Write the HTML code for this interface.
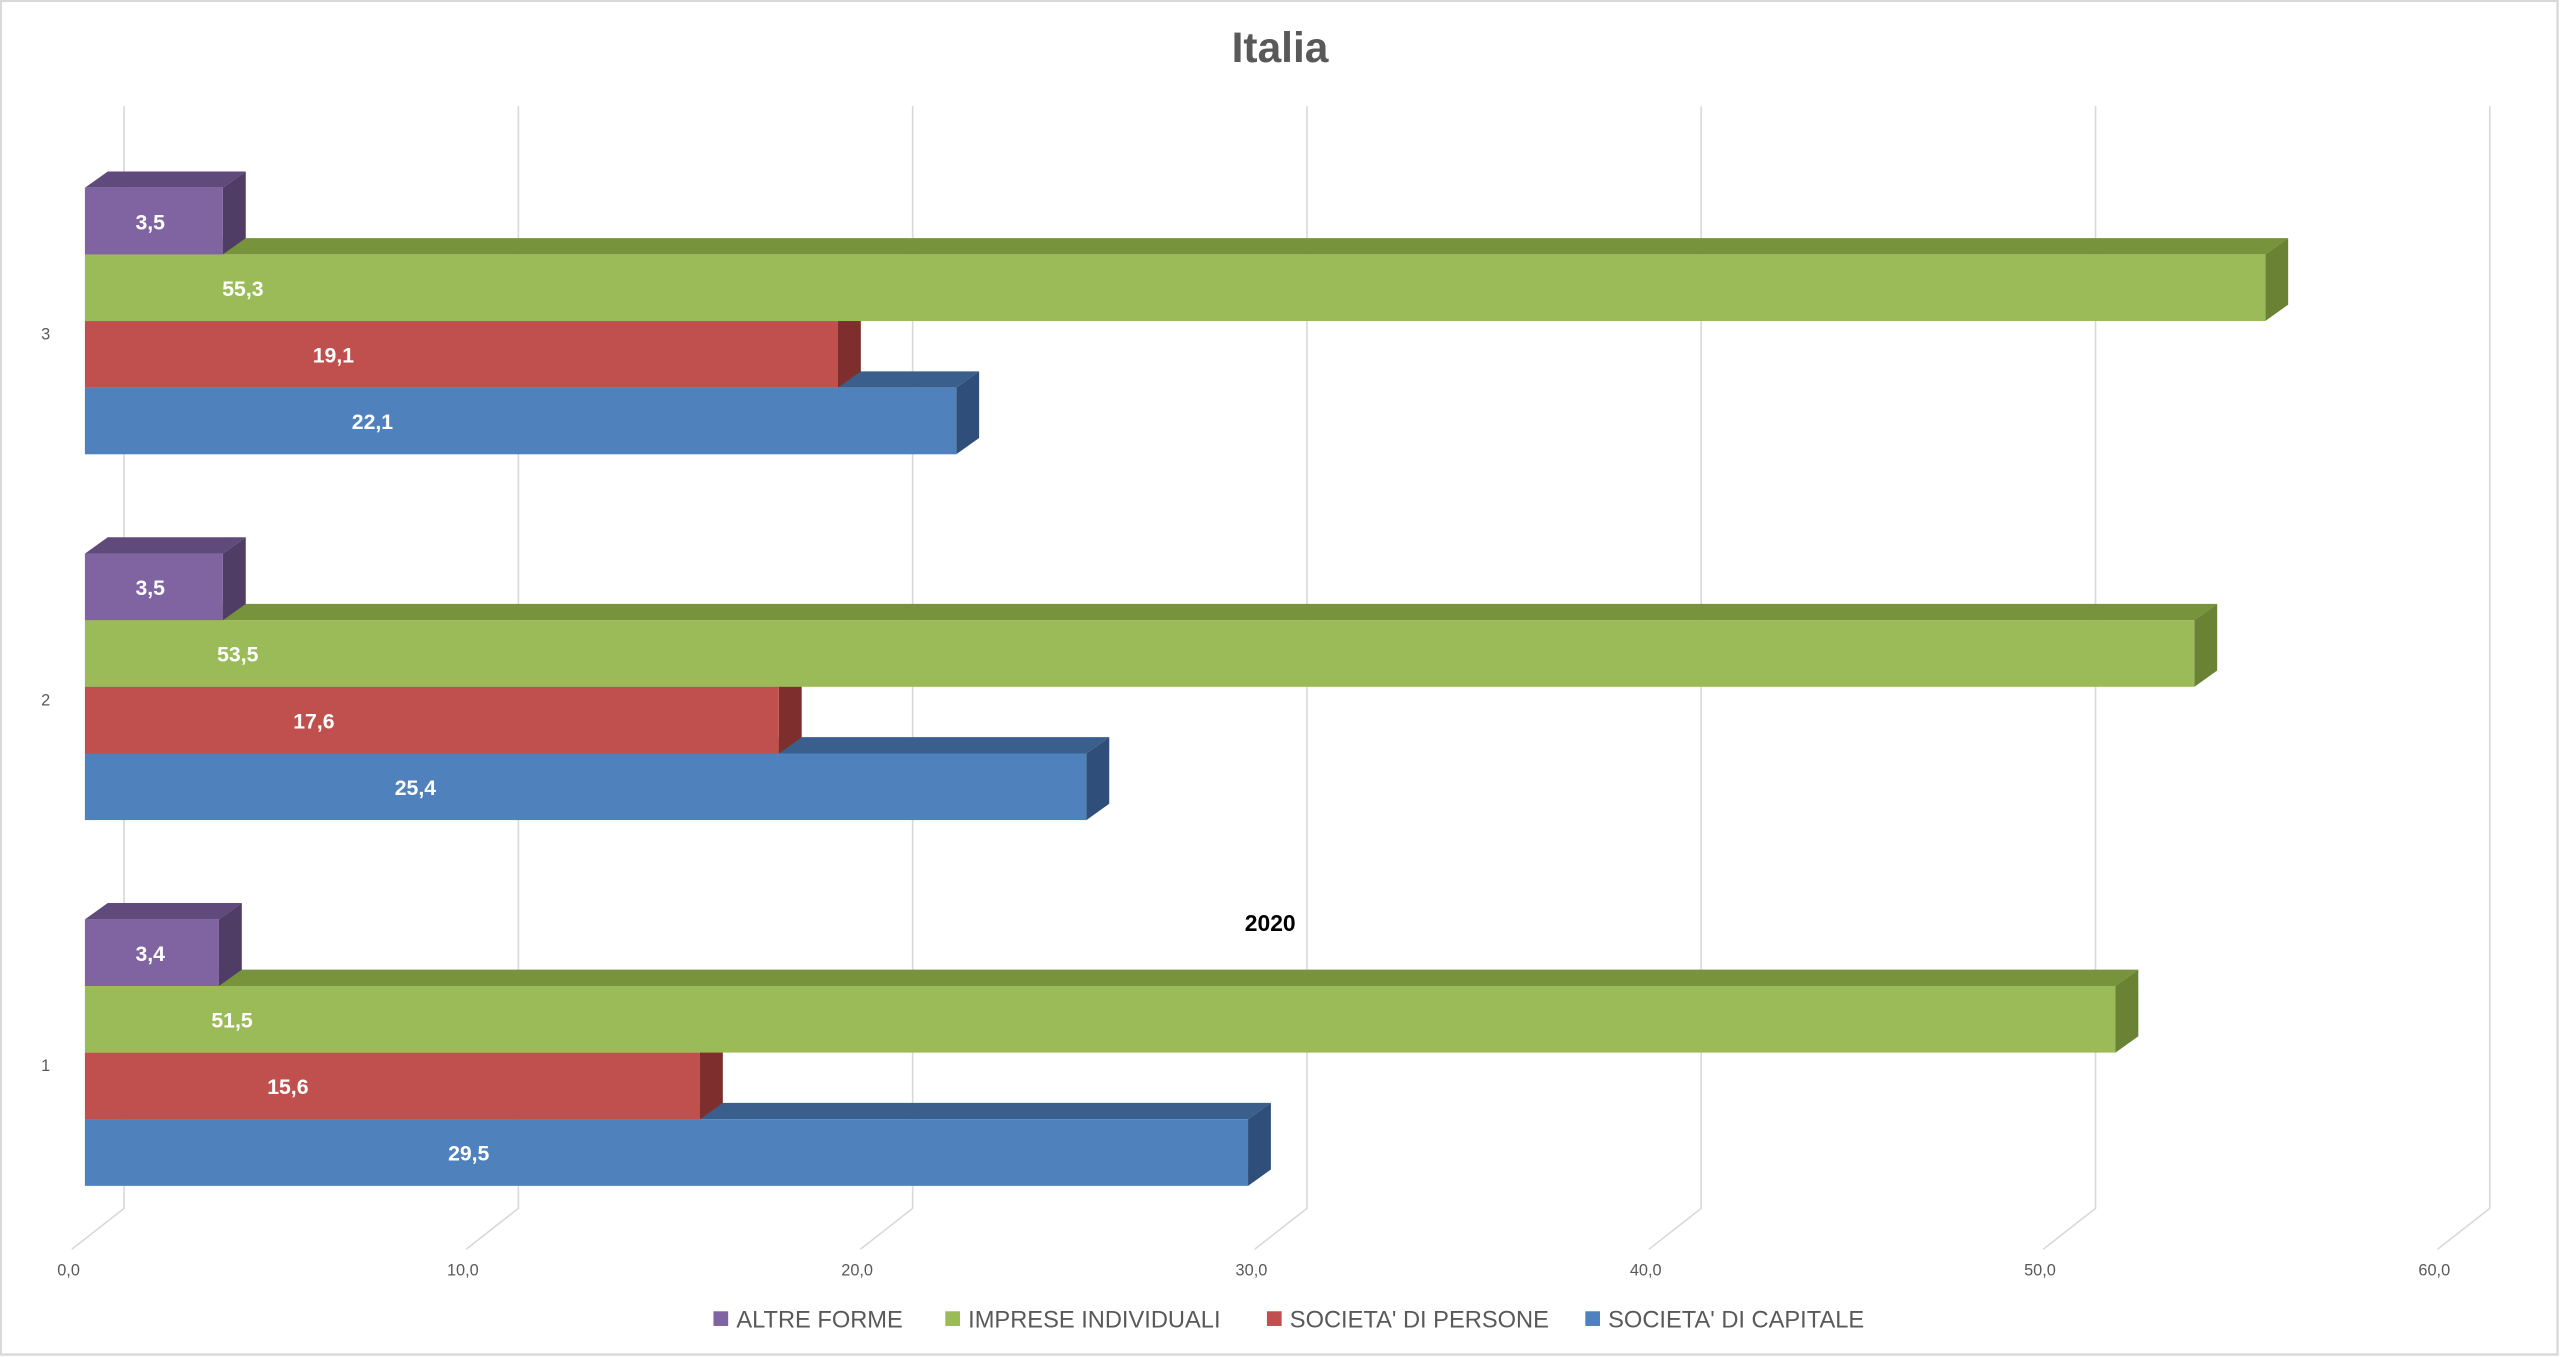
<!DOCTYPE html>
<html><head><meta charset="utf-8"><style>
html,body{margin:0;padding:0;background:#fff;}
svg{display:block;font-family:"Liberation Sans",sans-serif;}
</style></head><body>
<svg id="chart" width="2560" height="1357" viewBox="0 0 1568 831" preserveAspectRatio="none" xmlns="http://www.w3.org/2000/svg">
<rect x="0.5" y="0.5" width="1566" height="829" fill="#fff" stroke="#d9d9d9" stroke-width="1.5"/>
<text x="784" y="38" text-anchor="middle" font-size="26" font-weight="bold" fill="#595959">Italia</text>
<g id="grid"></g>
<g id="bars"></g>
<text x="778" y="570" text-anchor="middle" font-size="14" font-weight="bold" fill="#000">2020</text>
<g id="legend"></g>
</svg>
<script>
const categories = ["1","2","3"];
const seriesNames = ["ALTRE FORME","IMPRESE INDIVIDUALI","SOCIETA' DI PERSONE","SOCIETA' DI CAPITALE"];
const altreForme = [3.4,3.5,3.5];
const impreseIndividuali = [51.5,53.5,55.3];
const societaPersone = [15.6,17.6,19.1];
const societaCapitale = [29.5,25.4,22.1];
const tickValues = [0,10,20,30,40,50,60];
const tickLabels = ["0,0","10,0","20,0","30,0","40,0","50,0","60,0"];

const NS="http://www.w3.org/2000/svg";
const series=[altreForme,impreseIndividuali,societaPersone,societaCapitale];
const colors=[
 {f:"#8064A2",t:"#604A7B",s:"#4F3D66"},
 {f:"#9BBB59",t:"#77933C",s:"#6A8234"},
 {f:"#C0504D",t:"#8C3230",s:"#7E2F2D"},
 {f:"#4F81BD",t:"#3A5F8C",s:"#2F4F7A"}];
const X0=52, UNIT=24.15, DX=14, DY=10, BAR_H=40.8;
const xs=v=>X0+v*UNIT;
// category band: category index 0 ("1") at bottom
const groupTop=i=>563-224*i;
function mk(tag,attrs,parent){const e=document.createElementNS(NS,tag);for(const k in attrs)e.setAttribute(k,attrs[k]);parent.appendChild(e);return e;}
const grid=document.getElementById('grid');
tickValues.forEach((v,i)=>{
  const bx=xs(v)+24;
  const l=mk('polyline',{points:`${bx},65 ${bx},740 ${bx-32},765`,fill:"none",stroke:"#d9d9d9","stroke-width":1},grid);
  
  
  const t=mk('text',{x:bx-34,y:781,"text-anchor":"middle","font-size":10,fill:"#595959"},grid);
  t.textContent=tickLabels[i];
  
  
});
const bars=document.getElementById('bars');
categories.forEach((c,ci)=>{
  const t=mk('text',{x:28,y:groupTop(ci)+93,"text-anchor":"middle","font-size":10,fill:"#595959"},bars);
  t.textContent=c;
  
  
});
// draw from bottom (blue) to top (purple) so upper bars' top faces overlay
for(let ci=0;ci<categories.length;ci++){
  for(let si=series.length-1;si>=0;si--){
    const v=series[si][ci];
    const y=groupTop(ci)+si*BAR_H, x2=xs(v), col=colors[si];
    const g=mk('g',{},bars);
    
    
    mk('polygon',{points:`${X0},${y} ${X0+DX},${y-DY} ${x2+DX},${y-DY} ${x2},${y}`,fill:col.t},g);
    mk('polygon',{points:`${x2},${y} ${x2+DX},${y-DY} ${x2+DX},${y+BAR_H-DY} ${x2},${y+BAR_H}`,fill:col.s},g);
    mk('rect',{x:X0,y:y,width:x2-X0,height:BAR_H,fill:col.f},g);
    const w=x2-X0;
    const lx=v<35? X0+Math.max(w*0.33,40): X0+v*1.75;
    const t=mk('text',{x:lx,y:y+BAR_H/2+5,"text-anchor":"middle","font-size":13,"font-weight":"bold",fill:"#fff"},g);
    t.textContent=v.toFixed(1).replace('.',',');
  }
}
const legend=document.getElementById('legend');
const legX=[437,579,776,971];
seriesNames.forEach((n,i)=>{
  const g=mk('g',{},legend);
  
  
  mk('rect',{x:legX[i],y:803,width:9,height:9,fill:colors[i].f},g);
  const t=mk('text',{x:legX[i]+14,y:813,"font-size":14.5,fill:"#595959"},g);
  t.textContent=n;
});
</script>
</body></html>
